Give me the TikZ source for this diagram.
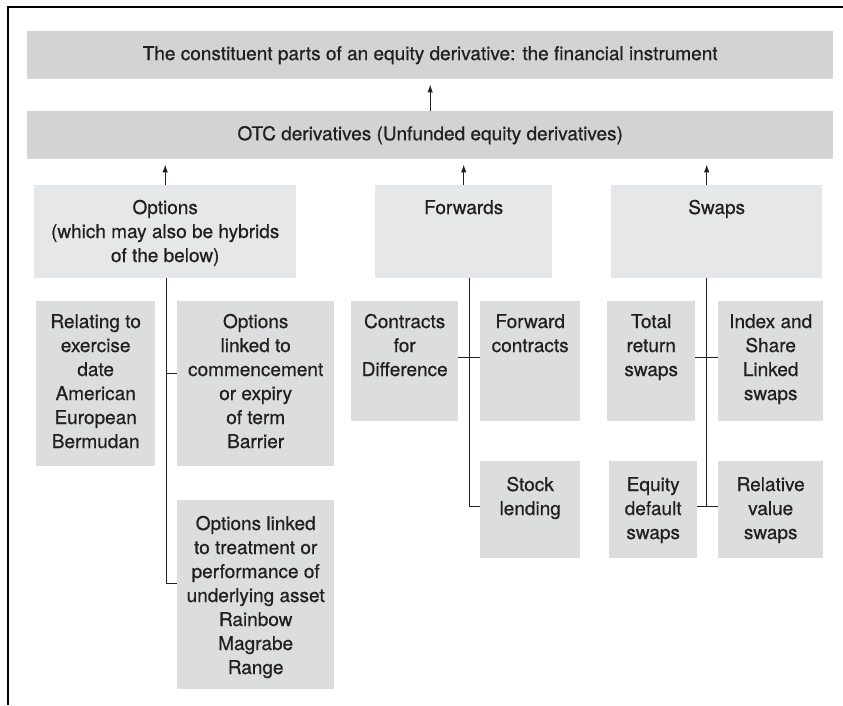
\documentclass[tikz,border=0pt]{standalone}
\usepackage{fontspec}
\setmainfont{TeX Gyre Heros}[FakeBold=0.6]
\usetikzlibrary{arrows.meta,calc}
\definecolor{inkgray}{RGB}{35,31,32}
\definecolor{headgray}{RGB}{211,211,212}
\definecolor{groupgray}{RGB}{230,231,232}
\definecolor{leafgray}{RGB}{220,221,222}
\def\cellbox#1#2#3#4{\parbox[c][#2pt][t]{#1pt}{\centering\vspace*{#3pt}\strut#4\par}}
\tikzset{
	head/.style={fill=headgray, inner sep=0pt, anchor=north west, minimum width=806pt, minimum height=48pt},
	group/.style={fill=groupgray, inner sep=0pt, anchor=north west},
	leaf/.style={fill=leafgray, inner sep=0pt, anchor=north west},
	link/.style={draw=inkgray, line width=1.1pt},
	uparrow/.style={link, -{Latex[length=8pt,width=5.5pt]}, shorten >=5pt}
}

\begin{document}
\begin{tikzpicture}[x=1pt, y=-1pt, font=\fontsize{19}{24}\selectfont, text=inkgray]
			%%%%% START %%%%%
			\useasboundingbox (0,0) rectangle (843,705);
			\draw[line width=1.6pt] (8,705) -- (8,7) -- (843,7);
			
			\node[head] (root) at (27,31) {The constituent parts of an equity derivative: the financial instrument};
			\node[head] (otc) at (27,111) {OTC derivatives (Unfunded equity derivatives)};
			
			\node[group] (options) at (34,185) {\cellbox{262}{93}{12}{Options\\(which may also be hybrids\\of the below)}};
			\node[group] (forwards) at (375,185) {\cellbox{177}{93}{12}{Forwards}};
			\node[group] (swaps) at (611,185) {\cellbox{211}{93}{12}{Swaps}};
			
			\node[leaf] (exercise) at (36,301) {\cellbox{119}{165}{10}{Relating to\\exercise\\date\\American\\European\\Bermudan}};
			\node[leaf] (term) at (177,301) {\cellbox{157}{165}{10}{Options\\linked to\\commencement\\or expiry\\of term\\Barrier}};
			\node[leaf] (underlying) at (177,500) {\cellbox{157}{189}{13}{Options linked\\to treatment or\\performance of\\underlying asset\\Rainbow\\Magrabe\\Range}};
			
			\node[leaf] (cfd) at (351,301) {\cellbox{107}{120}{10}{Contracts\\for\\Difference}};
			\node[leaf] (fc) at (480,301) {\cellbox{100}{120}{10}{Forward\\contracts}};
			\node[leaf] (stock) at (480,461) {\cellbox{100}{97}{13}{Stock\\lending}};
			
			\node[leaf] (trs) at (607,301) {\cellbox{88}{120}{10}{Total\\return\\swaps}};
			\node[leaf] (isl) at (718,301) {\cellbox{105}{120}{10}{Index and\\Share\\Linked\\swaps}};
			\node[leaf] (eds) at (609,461) {\cellbox{88}{97}{13}{Equity\\default\\swaps}};
			\node[leaf] (rvs) at (718,461) {\cellbox{105}{97}{13}{Relative\\value\\swaps}};
			
			% trunks sit between the two columns of each group
			\coordinate (opttrunk) at ($(exercise.north east)!.5!(term.north west)$);
			\coordinate (fwdtrunk) at ($(cfd.north east)!.5!(fc.north west)$);
			\coordinate (swptrunk) at ($(trs.north east)!.5!(isl.north west)$);
			\coordinate (termjoin) at ([yshift=10pt]term.west);
			\coordinate (swpfoot) at ([yshift=3pt]eds.east);
			
			\draw[uparrow] (otc.north) -- (root.south);
			\draw[uparrow] (options.north) -- (options.north |- otc.south);
			\draw[uparrow] (forwards.north) -- (forwards.north |- otc.south);
			\draw[uparrow] (swptrunk |- swaps.north) -- (swptrunk |- otc.south);
			
			\draw[link] (opttrunk |- options.south) |- ([yshift=11pt]underlying.west);
			\draw[link] (termjoin -| opttrunk) -- (termjoin);
			
			\draw[link] (fwdtrunk |- forwards.south) |- ([yshift=3pt]stock.west);
			\draw[link] ([yshift=4pt]cfd.east) -- ([yshift=4pt]fc.west);
			
			\draw[link] (swptrunk |- swaps.south) -- (swptrunk |- swpfoot);
			\draw[link] ([yshift=4pt]trs.east) -- ([yshift=4pt]isl.west);
			\draw[link] (swpfoot) -- ([yshift=3pt]rvs.west);
			%%%%% END %%%%%
\end{tikzpicture}
\end{document}
